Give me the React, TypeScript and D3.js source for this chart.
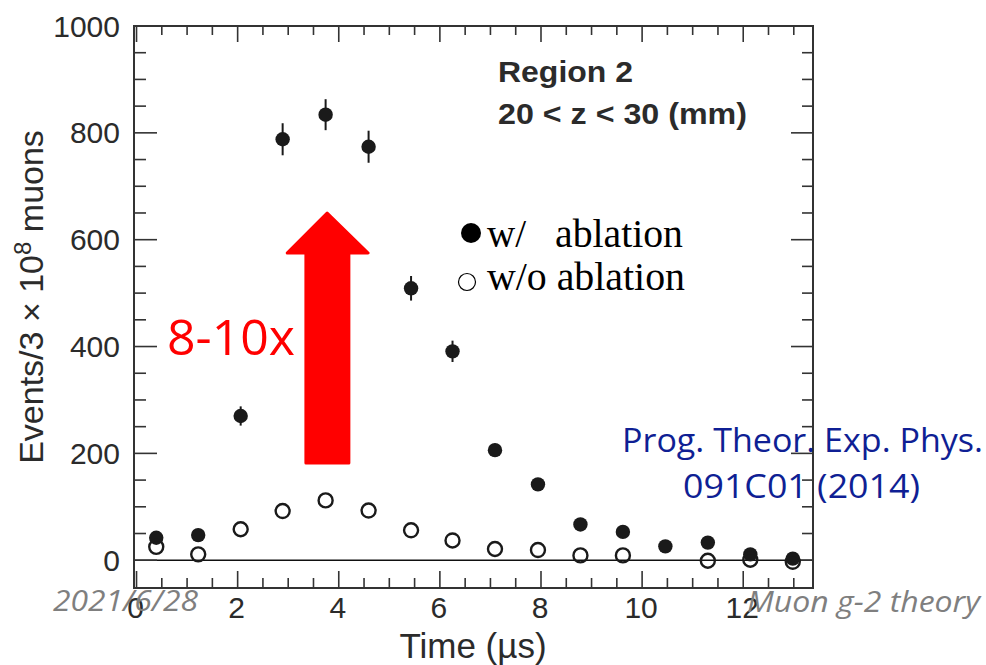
import React from 'react';
import * as d3 from 'd3';

const timeWith = [0.39, 1.22, 2.06, 2.89, 3.74, 4.59, 5.43, 6.25, 7.09, 7.94, 8.78, 9.62, 10.46, 11.3, 12.14, 12.98];
const eventsWith = [42, 47, 270, 788, 834, 774, 509, 391, 206, 142, 67, 53, 26, 33, 11, 3];
const errWith = [8, 8, 18, 30, 29, 30, 23, 20, 12, 10, 8, 7, 6, 6, 5, 5];
const timeWithout = [0.39, 1.22, 2.06, 2.89, 3.74, 4.59, 5.43, 6.25, 7.09, 7.94, 8.78, 9.62, 11.3, 12.14, 12.98];
const eventsWithout = [25, 11, 58, 92, 112, 93, 56, 37, 21, 19, 9, 9, -1, 1, -3];
const xTickLabels = [0, 2, 4, 6, 8, 10, 12];
const yTickLabels = [0, 200, 400, 600, 800, 1000];

const W = 986;
const H = 665;
const left = 134, right = 813, top = 26, bottom = 588;

export default function App() {
  const x = d3.scaleLinear().domain([-0.05, 13.38]).range([left, right]);
  const y = d3.scaleLinear().domain([-52, 1000]).range([bottom, top]);

  const axisColor = '#333';
  const labelColor = '#2b2b2b';
  const sans = '"Liberation Sans", Arial, Helvetica, sans-serif';
  const calib = '"Open Sans", "Noto Sans", sans-serif';
  const serif = '"Liberation Serif", "Times New Roman", serif';

  const xMinor = d3.range(0.5, 13.01, 0.5).filter((v) => Math.abs(v % 2) > 1e-6);
  const xMajor = xTickLabels;
  const yMinor = d3.range(50, 951, 50).filter((v) => v % 200 !== 0);
  const yMajor = yTickLabels.filter((v) => v < 1000);

  // arrow annotation in data space
  const arrowTip = { t: 3.77, v: 650 };
  const headBase = 575;
  const headL = 2.98, headR = 4.58;
  const shaftL = 3.35, shaftR = 4.2;
  const shaftBottom = 182;
  const arrowPath = [
    [x(arrowTip.t), y(arrowTip.v)],
    [x(headR), y(headBase)],
    [x(shaftR), y(headBase)],
    [x(shaftR), y(shaftBottom)],
    [x(shaftL), y(shaftBottom)],
    [x(shaftL), y(headBase)],
    [x(headL), y(headBase)],
  ];
  const arrowD = d3.line()(arrowPath as [number, number][]) + 'Z';

  return (
    <svg width={W} height={H} style={{ position: 'absolute', left: 0, top: 0, background: '#fff' }}>
      <rect x={0} y={0} width={W} height={H} fill="#fff" />
      {/* zero line */}
      <line x1={left} x2={right} y1={y(0)} y2={y(0)} stroke="#111" strokeWidth={1.6} />
      {/* ticks */}
      {xMajor.map((v) => (
        <g key={'xM' + v}>
          <line x1={x(v)} x2={x(v)} y1={bottom} y2={bottom - 17} stroke={axisColor} strokeWidth={1.6} />
          <line x1={x(v)} x2={x(v)} y1={top} y2={top + 16} stroke={axisColor} strokeWidth={1.6} />
        </g>
      ))}
      {xMinor.map((v) => (
        <g key={'xm' + v}>
          <line x1={x(v)} x2={x(v)} y1={bottom} y2={bottom - 10} stroke={axisColor} strokeWidth={1.6} />
          <line x1={x(v)} x2={x(v)} y1={top} y2={top + 9} stroke={axisColor} strokeWidth={1.6} />
        </g>
      ))}
      {yMajor.map((v) => (
        <g key={'yM' + v}>
          <line x1={left} x2={left + 23} y1={y(v)} y2={y(v)} stroke={axisColor} strokeWidth={1.6} />
          <line x1={right} x2={right - 22} y1={y(v)} y2={y(v)} stroke={axisColor} strokeWidth={1.6} />
        </g>
      ))}
      {yMinor.map((v) => (
        <g key={'ym' + v}>
          <line x1={left} x2={left + 12} y1={y(v)} y2={y(v)} stroke={axisColor} strokeWidth={1.6} />
          <line x1={right} x2={right - 11} y1={y(v)} y2={y(v)} stroke={axisColor} strokeWidth={1.6} />
        </g>
      ))}
      {/* frame */}
      <rect x={left} y={top} width={right - left} height={bottom - top} fill="none" stroke={axisColor} strokeWidth={2} />

      {/* y tick labels */}
      {yTickLabels.map((v) => (
        <text key={'yl' + v} x={120} y={y(v) + 10.5} textAnchor="end" fontFamily={sans} fontSize={30} fill={labelColor}>
          {v}
        </text>
      ))}
      {/* x tick labels */}
      {xTickLabels.map((v) => (
        <text key={'xl' + v} x={x(v) - 1} y={618} textAnchor="middle" fontFamily={sans} fontSize={30} fill={labelColor}>
          {v}
        </text>
      ))}
      {/* axis titles */}
      <text x={473} y={658} textAnchor="middle" fontFamily={sans} fontSize={35} fill={labelColor}>
        Time (µs)
      </text>
      <text
        transform="translate(43,297) rotate(-90)"
        textAnchor="middle"
        fontFamily={sans}
        fontSize={34}
        fill={labelColor}
      >
        Events/3 × 10<tspan dy={-12} fontSize={24}>8</tspan>
        <tspan dy={12}> muons</tspan>
      </text>

      {/* Region text */}
      <text x={498} y={82} fontFamily={sans} fontWeight="bold" fontSize={30} fill={labelColor} textLength={135} lengthAdjust="spacingAndGlyphs">
        Region 2
      </text>
      <text x={498} y={124} fontFamily={sans} fontWeight="bold" fontSize={30} fill={labelColor} textLength={249} lengthAdjust="spacingAndGlyphs">
        20 &lt; z &lt; 30 (mm)
      </text>

      {/* arrow */}
      <path d={arrowD} fill="#ff0000" stroke="#ff0000" strokeWidth={3} strokeLinejoin="round" />
      <text x={167} y={355} fontFamily={calib} fontSize={50} fill="#ff0000" textLength={128} lengthAdjust="spacingAndGlyphs">
        8-10x
      </text>

      {/* error bars */}
      {timeWith.map((t, i) => (
        <line
          key={'e' + i}
          x1={x(t)}
          x2={x(t)}
          y1={y(eventsWith[i] - errWith[i])}
          y2={y(eventsWith[i] + errWith[i])}
          stroke="#1a1a1a"
          strokeWidth={2}
        />
      ))}
      {/* filled points */}
      {timeWith.map((t, i) => (
        <circle key={'f' + i} cx={x(t)} cy={y(eventsWith[i])} r={7.2} fill="#1a1a1a" />
      ))}
      {/* open points */}
      {timeWithout.map((t, i) => (
        <circle key={'o' + i} cx={x(t)} cy={y(eventsWithout[i])} r={7} fill="none" stroke="#1a1a1a" strokeWidth={2.4} />
      ))}

      {/* legend */}
      <circle cx={471} cy={233} r={10} fill="#000" />
      <text x={487} y={247} fontFamily={serif} fontSize={39} fill="#000">w/</text>
      <text x={555} y={247} fontFamily={serif} fontSize={39} fill="#000" textLength={128} lengthAdjust="spacingAndGlyphs">ablation</text>
      <circle cx={467} cy={282} r={8.5} fill="#fff" stroke="#000" strokeWidth={1.2} />
      <text x={487} y={290} fontFamily={serif} fontSize={39} fill="#000" textLength={198} lengthAdjust="spacingAndGlyphs">w/o ablation</text>

      {/* citation */}
      <text x={622} y={452} fontFamily={calib} fontSize={33} fill="#0f1f94" textLength={361} lengthAdjust="spacingAndGlyphs">
        Prog. Theor. Exp. Phys.
      </text>
      <text x={683} y={498} fontFamily={calib} fontSize={33} fill="#0f1f94" textLength={237} lengthAdjust="spacingAndGlyphs">
        091C01 (2014)
      </text>

      {/* footer */}
      <text x={53} y={611} fontFamily={calib} fontStyle="italic" fontSize={30} fill="#7f7f7f" textLength={145} lengthAdjust="spacingAndGlyphs">
        2021/6/28
      </text>
      <text x={747} y={612} fontFamily={calib} fontStyle="italic" fontSize={30} fill="#7f7f7f" textLength={233} lengthAdjust="spacingAndGlyphs">
        Muon g-2 theory
      </text>
    </svg>
  );
}
